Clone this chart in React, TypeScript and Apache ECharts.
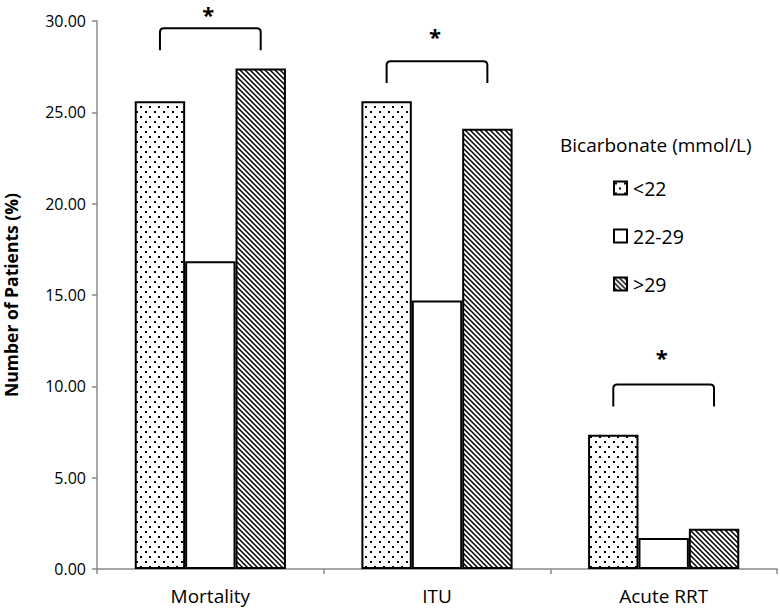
import React, { useEffect, useRef } from "react";
import * as echarts from "echarts";

const categories = ["Mortality", "ITU", "Acute RRT"];
const seriesNames = ["<22", "22-29", ">29"];
const lowBicarb = [25.6, 25.6, 7.35];
const normalBicarb = [16.85, 14.7, 1.7];
const highBicarb = [27.4, 24.1, 2.2];
const yMin = 0;
const yMax = 30;
const yInterval = 5;
const bracketBottom = [28.4, 26.6, 8.9];
const bracketTop = [29.6, 27.8, 10.1];
const starLevel = [30.6, 29.4, 11.8];
const legendTitle = "Bicarbonate (mmol/L)";
const yAxisName = "Number of Patients (%)";

const FONT = "'Open Sans', sans-serif";

function makeDots(): string {
  const c = document.createElement("canvas");
  c.width = 9;
  c.height = 10;
  const ctx = c.getContext("2d")!;
  ctx.fillStyle = "#fff";
  ctx.fillRect(0, 0, 9, 10);
  ctx.fillStyle = "#000";
  ctx.fillRect(1, 1, 2, 2);
  ctx.fillRect(5, 6, 2, 2);
  return c.toDataURL();
}

function makeHatch(): string {
  const s = 5;
  const c = document.createElement("canvas");
  c.width = s;
  c.height = s;
  const ctx = c.getContext("2d")!;
  ctx.fillStyle = "#fff";
  ctx.fillRect(0, 0, s, s);
  ctx.strokeStyle = "#000";
  ctx.lineWidth = 1.5;
  ctx.beginPath();
  ctx.moveTo(-1, -1);
  ctx.lineTo(s + 1, s + 1);
  ctx.moveTo(-1, s - 1);
  ctx.lineTo(1, s + 1);
  ctx.moveTo(s - 1, -1);
  ctx.lineTo(s + 1, 1);
  ctx.stroke();
  return c.toDataURL();
}

export default function App() {
  const ref = useRef<HTMLDivElement>(null);
  useEffect(() => {
    if (!ref.current) return;
    const chart = echarts.init(ref.current, null, { renderer: "svg" });
    const dots = { image: makeDots(), repeat: "repeat", imageWidth: 9, imageHeight: 10 } as any;
    const hatch = { image: makeHatch(), repeat: "repeat", imageWidth: 5, imageHeight: 5 } as any;
    const border = { borderColor: "#000", borderWidth: 2 };
    const bracketData = categories.map((_, i) => [i, bracketBottom[i], bracketTop[i], starLevel[i]]);
    chart.setOption({
      animation: false,
      textStyle: { fontFamily: FONT },
      title: {
        text: legendTitle,
        left: 560,
        top: 135,
        padding: 0,
        textStyle: { fontFamily: FONT, fontSize: 19, fontWeight: "normal", color: "#000" },
      },
      legend: {
        data: seriesNames,
        orient: "vertical",
        left: 613,
        top: 178,
        padding: 0,
        itemWidth: 13,
        itemHeight: 13,
        itemGap: 28,
        selectedMode: false,
        icon: "rect",
        textStyle: { fontFamily: FONT, fontSize: 19.5, color: "#000", padding: [0, 0, 0, 1] },
      },
      grid: { left: 97, right: 3, top: 21, bottom: 42, containLabel: false, outerBoundsMode: "none" },
      xAxis: {
        type: "category",
        data: categories,
        axisLine: { lineStyle: { color: "#8a8a8a", width: 1.5 } },
        axisTick: { show: true, length: 5, lineStyle: { color: "#8a8a8a", width: 1.5 } },
        axisLabel: { fontFamily: FONT, fontSize: 19, color: "#000", margin: 17 },
      },
      yAxis: {
        type: "value",
        min: yMin,
        max: yMax,
        interval: yInterval,
        name: yAxisName,
        nameLocation: "middle",
        nameGap: 77,
        nameTextStyle: { fontFamily: FONT, fontSize: 17.5, fontWeight: "bold", color: "#000" },
        axisLine: { show: true, lineStyle: { color: "#8a8a8a", width: 1.5 } },
        axisTick: { show: true, length: 5, lineStyle: { color: "#8a8a8a", width: 1.5 } },
        splitLine: { show: false },
        axisLabel: {
          fontFamily: FONT,
          fontSize: 16,
          color: "#000",
          margin: 11,
          formatter: (v: number) => v.toFixed(2),
        },
      },
      series: [
        {
          name: seriesNames[0],
          type: "bar",
          data: lowBicarb,
          barGap: "0%",
          barCategoryGap: "33.3%",
          itemStyle: { color: dots, ...border },
        },
        {
          name: seriesNames[1],
          type: "bar",
          data: normalBicarb,
          itemStyle: { color: "#fff", ...border },
        },
        {
          name: seriesNames[2],
          type: "bar",
          data: highBicarb,
          itemStyle: { color: hatch, ...border },
        },
        {
          type: "custom",
          name: "brackets",
          data: bracketData,
          silent: true,
          clip: false,
          z: 10,
          renderItem: (params: any, api: any) => {
            const i = api.value(0);
            const b = api.coord([i, api.value(1)]);
            const t = api.coord([i, api.value(2)]);
            const s = api.coord([i, api.value(3)]);
            const bw = api.size([1, 0])[0];
            const x1 = b[0] - (bw * 2) / 9;
            const x2 = b[0] + (bw * 2) / 9;
            const y1 = b[1];
            const y2 = t[1];
            const r = 4;
            return {
              type: "group",
              children: [
                {
                  type: "path",
                  shape: {
                    pathData: `M${x1} ${y1}L${x1} ${y2 + r}Q${x1} ${y2} ${x1 + r} ${y2}L${x2 - r} ${y2}Q${x2} ${y2} ${x2} ${y2 + r}L${x2} ${y1}`,
                  },
                  style: { fill: "none", stroke: "#000", lineWidth: 2 },
                },
                {
                  type: "text",
                  x: b[0] - 2,
                  y: s[1] - 7,
                  style: {
                    text: "*",
                    fontSize: 22,
                    fontWeight: "bold",
                    fontFamily: FONT,
                    fill: "#000",
                    align: "center",
                    verticalAlign: "top",
                  },
                },
              ],
            };
          },
        },
      ],
    } as any);
    return () => chart.dispose();
  }, []);
  return <div ref={ref} style={{ width: 780, height: 611, position: "absolute", left: 0, top: 0 }} />;
}
